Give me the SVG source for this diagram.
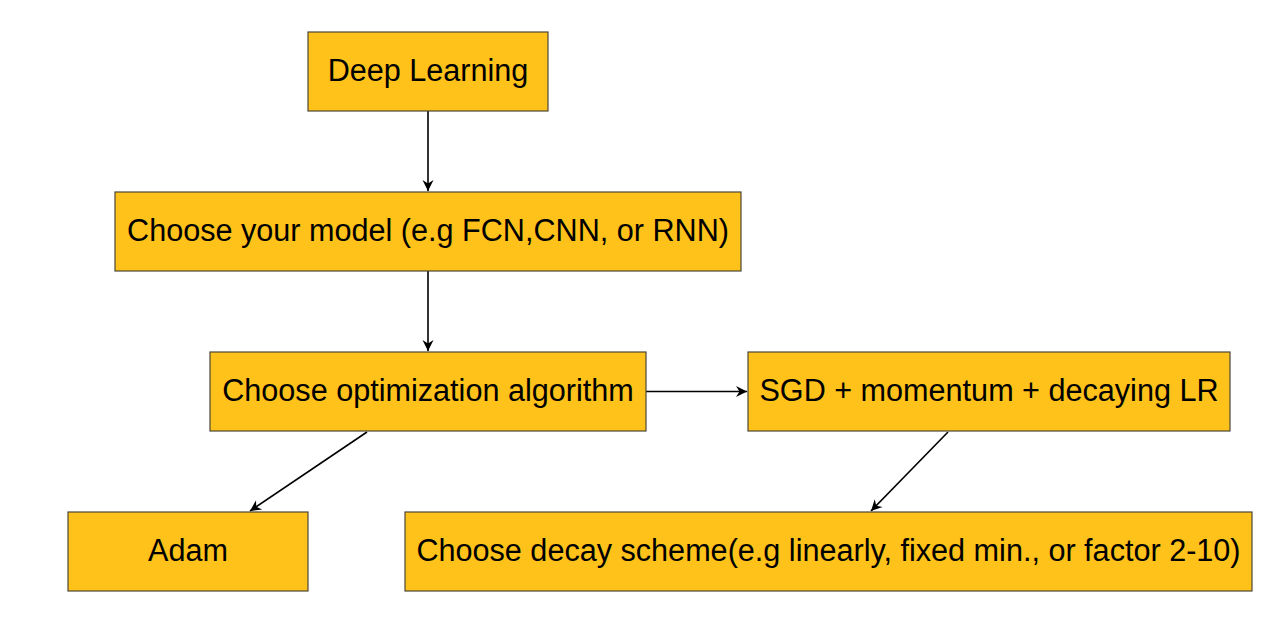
<svg xmlns="http://www.w3.org/2000/svg" width="1265" height="617" viewBox="0 0 1265 617">
<style>
.box{fill:#FEC21A;stroke:#4d4636;stroke-width:1.2}
.lbl{font-family:"Liberation Sans",Arial,sans-serif;font-size:30.6px;fill:#000;text-anchor:middle}
.edge{stroke:#000;stroke-width:1.6;fill:none;marker-end:url(#ah)}
</style>
<defs>
<marker id="ah" viewBox="-13 -6 14 12" refX="0" refY="0" markerWidth="14" markerHeight="12" markerUnits="userSpaceOnUse" orient="auto">
<path d="M0,0 L-11,-5.5 L-7.5,0 L-11,5.5 Z" fill="#000"/>
</marker>
</defs>
<rect width="1265" height="617" fill="#fff"/>
<g id="connectors">
<line class="edge" x1="428" y1="111" x2="428" y2="191"/>
<line class="edge" x1="428" y1="271" x2="428" y2="351"/>
<line class="edge" x1="646" y1="391.5" x2="747" y2="391.5"/>
<line class="edge" x1="367" y1="432" x2="250" y2="511"/>
<line class="edge" x1="948" y1="432" x2="871" y2="511"/>
</g>
<g id="deep-learning">
<rect class="box" x="308" y="32" width="240" height="79"/>
<text class="lbl" x="428" y="80.5">Deep Learning</text>
</g>
<g id="choose-model">
<rect class="box" x="115" y="192" width="626" height="79"/>
<text class="lbl" x="428" y="240.5">Choose your model (e.g FCN,CNN, or RNN)</text>
</g>
<g id="choose-optim">
<rect class="box" x="210" y="352" width="436" height="79"/>
<text class="lbl" x="428" y="400.5">Choose optimization algorithm</text>
</g>
<g id="sgd">
<rect class="box" x="748" y="352" width="482" height="79"/>
<text class="lbl" x="989" y="400.5">SGD + momentum + decaying LR</text>
</g>
<g id="adam">
<rect class="box" x="68" y="512" width="240" height="79"/>
<text class="lbl" x="188" y="561">Adam</text>
</g>
<g id="decay">
<rect class="box" x="405" y="512" width="847" height="79"/>
<text class="lbl" x="828.5" y="561">Choose decay scheme(e.g linearly, fixed min., or factor 2-10)</text>
</g>
</svg>
